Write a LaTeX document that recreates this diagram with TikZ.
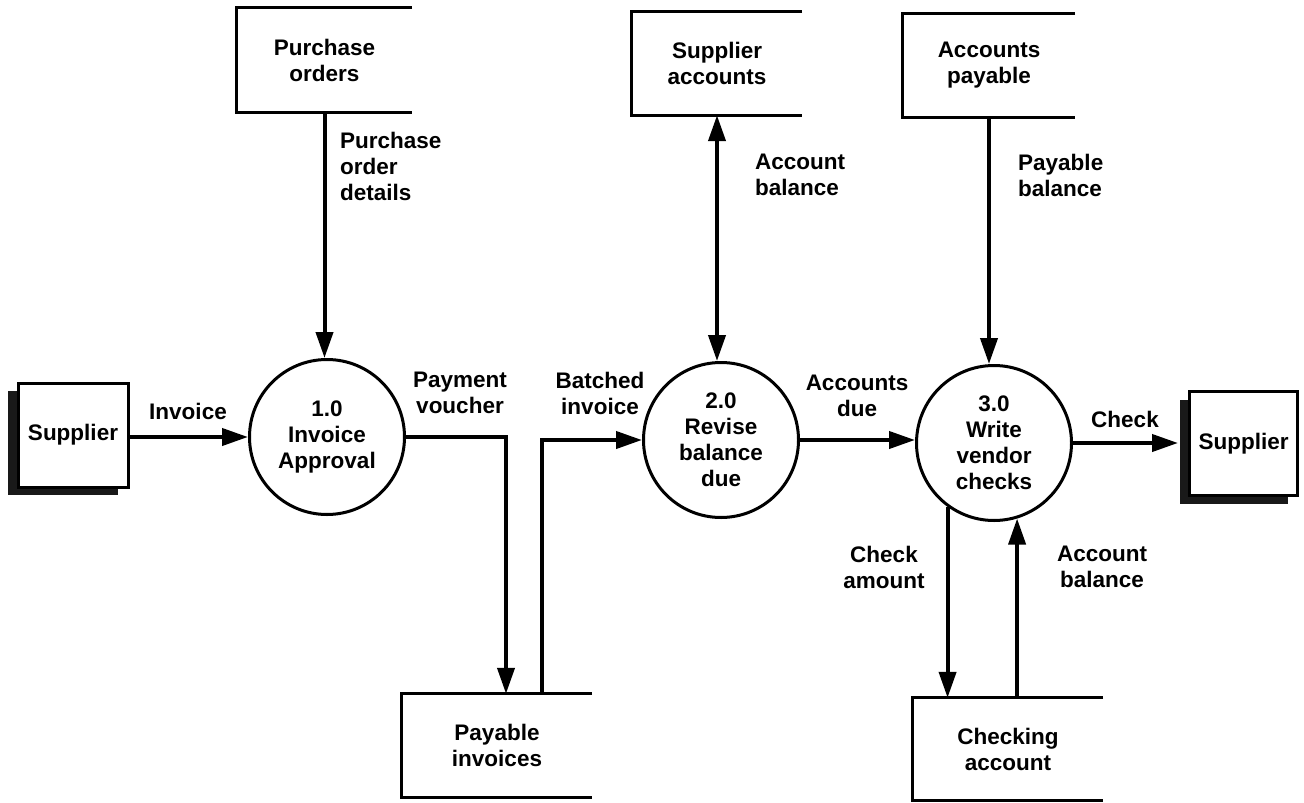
\documentclass[tikz,border=0pt]{standalone}
\usepackage{fontspec}
\setmainfont{Liberation Sans}
\usetikzlibrary{arrows.meta,shadows}
\begin{document}
\begin{tikzpicture}[x=1pt,y=-1pt,
  lbl/.style={font=\fontsize{22.5}{26}\selectfont\bfseries, inner sep=0pt, align=center},
  proc/.style={circle, draw, line width=3pt, minimum size=155pt, inner sep=0pt, lbl},
  store/.style={inner sep=0pt, lbl},
  storeline/.style={line width=3pt},
  ext/.style={draw, line width=3pt, fill=white, minimum width=110pt, minimum height=104pt, lbl,
    drop shadow={shadow xshift=-10pt, shadow yshift=-8pt, fill=black!90, opacity=1}},
  flow/.style={line width=4pt, -{Triangle[length=26pt,width=17pt]}},
  flowtwo/.style={line width=4pt, {Triangle[length=26pt,width=17pt]}-{Triangle[length=26pt,width=17pt]}},
]
\useasboundingbox (0,0) rectangle (1304,803);

% external entities
\node[ext] (s1) at (73,435) {Supplier};
\node[ext, minimum width=108pt] (s2) at (1243.5,443.5) {Supplier};

% processes
\node[proc] (p1) at (327,437) {1.0\\Invoice\\Approval};
\node[proc] (p2) at (721,440) {2.0\\Revise\\balance\\due};
\node[proc] (p3) at (994,443) {3.0\\Write\\vendor\\checks};

% data stores
\node[store, minimum width=175pt, minimum height=104pt] (po) at (324.5,60) {Purchase\\orders};
\draw[storeline] (po.north east) -- (po.north west) -- (po.south west) -- (po.south east);
\node[store, minimum width=170pt, minimum height=103pt] (sa) at (717,63.5) {Supplier\\accounts};
\draw[storeline] (sa.north east) -- (sa.north west) -- (sa.south west) -- (sa.south east);
\node[store, minimum width=172pt, minimum height=103pt] (ap) at (989,65.5) {Accounts\\payable};
\draw[storeline] (ap.north east) -- (ap.north west) -- (ap.south west) -- (ap.south east);
\node[store, minimum width=190pt, minimum height=103pt] (pi) at (497,745.5) {Payable\\invoices};
\draw[storeline] (pi.north east) -- (pi.north west) -- (pi.south west) -- (pi.south east);
\node[store, minimum width=190pt, minimum height=102pt] (ca) at (1008,749) {Checking\\account};
\draw[storeline] (ca.north east) -- (ca.north west) -- (ca.south west) -- (ca.south east);

% flows
\draw[flow] (s1.east |- p1.west) -- (p1.west);
\draw[flow] (po.south) -- (po.south |- p1.north);
\draw[flowtwo] (sa.south) -- (sa.south |- p2.north);
\draw[flow] (ap.south) -- (ap.south |- p3.north);
\draw[flow] (p1.east) -| ([xshift=9pt]pi.north);
\draw[flow] ([xshift=45pt]pi.north) |- (p2.west);
\draw[flow] (p2.east) -- (p2.east -| p3.west);
\draw[flow] (p3.east) -- ([xshift=-10pt]s2.west |- p3.east);
\draw[flow] (p3.234) -- (p3.234 |- ca.north);
\draw[flow] (p3.287 |- ca.north) -- (p3.287);

% flow labels
\node[lbl, align=left, anchor=west] (lpod) at (340,166) {Purchase\\order\\details};
\node[lbl, align=left, anchor=west] (lab1) at (755,175) {Account\\balance};
\node[lbl, align=left, anchor=west] (lpb) at (1018,175) {Payable\\balance};
\node[lbl] (linv) at (188,411) {Invoice};
\node[lbl] (lpv) at (460,393) {Payment\\voucher};
\node[lbl] (lbi) at (600,393) {Batched\\invoice};
\node[lbl] (lad) at (857,396) {Accounts\\due};
\node[lbl] (lch) at (1125,419) {Check};
\node[lbl] (lca) at (884,567) {Check\\amount};
\node[lbl] (lab2) at (1102,567) {Account\\balance};
\end{tikzpicture}
\end{document}
